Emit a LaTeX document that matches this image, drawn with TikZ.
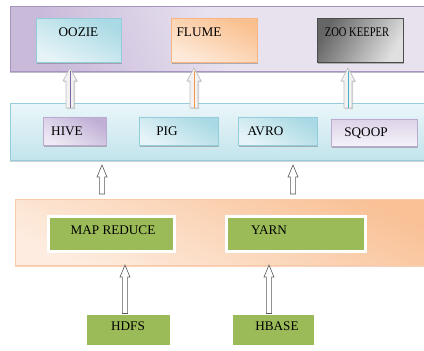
\documentclass[tikz,border=0pt]{standalone}
\usepackage{fontspec}
\setmainfont{Liberation Serif}
\usetikzlibrary{calc,shadows}
\definecolor{pdark}{HTML}{BBA9D1}
\definecolor{plight}{HTML}{E8E2EF}
\definecolor{pedge}{HTML}{A693C0}
\definecolor{bband}{HTML}{DDF0F5}
\definecolor{bbandd}{HTML}{C2E4EC}
\definecolor{bedge}{HTML}{93CDDB}
\definecolor{oband}{HTML}{F9C196}
\definecolor{obandl}{HTML}{FDECDF}
\definecolor{oedge}{HTML}{F2A675}
\definecolor{gbox}{HTML}{9BBB59}
\definecolor{HTML-A9D9E4}{HTML}{A9D9E4}
\definecolor{oozl}{HTML}{E6F4F7}
\definecolor{fdark}{HTML}{FAC08F}
\definecolor{flight}{HTML}{FDEADA}
\definecolor{fedge}{HTML}{F8B483}
\definecolor{hdark}{HTML}{BFAFD5}
\definecolor{hlight}{HTML}{EEE9F4}
\definecolor{sqd}{HTML}{DDD3E8}
\definecolor{sqe}{HTML}{BBA9D0}
\definecolor{arrp}{HTML}{8064A2}
\definecolor{arro}{HTML}{F79646}
\definecolor{arrt}{HTML}{4BACC6}
\tikzset{
  every node/.style={inner sep=0pt, outer sep=0pt},
  sh/.style={drop shadow={shadow xshift=1.3pt, shadow yshift=-1.6pt, fill=black!50, opacity=0.55}},
  bandsh/.style={drop shadow={shadow xshift=0pt, shadow yshift=-2pt, fill=pedge!70!black, opacity=0.45}},
  nw/.style={rectangle, anchor=north west},
  bluebox/.style={nw, sh, draw=bedge, line width=0.6pt},
  txt/.style={font=\fontsize{13.2}{15}\selectfont, text=black},
  greenbox/.style={nw, sh, fill=gbox, draw=black!15, line width=0.4pt, double=white, double distance=3pt},
  openarr/.style={fill=white, draw=black!65, line width=0.6pt},
  grayarr/.style={fill=black!5, draw=black!25, line width=0.7pt, drop shadow={shadow xshift=1pt, shadow yshift=-1pt, fill=black!40, opacity=0.4}}
}
% #1 style, #2 base, #3 tip, #4 half shaft, #5 half head, #6 head length
\newcommand\uparr[6]{%
  \draw[#1] ($(#2)+(-#4,0)$) -- ($(#3)+(-#4,#6)$) -- ($(#3)+(-#5,#6)$) -- (#3)
    -- ($(#3)+(#5,#6)$) -- ($(#3)+(#4,#6)$) -- ($(#2)+(#4,0)$) -- cycle;}
\begin{document}
\begin{tikzpicture}[x=1pt,y=-1pt]
\fill[white] (0,0) rectangle (424,351);
\useasboundingbox (0,0) rectangle (424,351);
% bands
\node[nw, bandsh, minimum width=420, minimum height=65, draw=pedge, line width=0.6pt,
  top color=plight!30!pdark, bottom color=plight, middle color=plight, shading angle=110] (top) at (10,6) {};
\node[nw, drop shadow={shadow xshift=0pt, shadow yshift=-2pt, fill=black!40, opacity=0.45}, minimum width=420, minimum height=57, draw=bedge, line width=0.6pt,
  top color=bband!60!white, bottom color=bbandd] (mid) at (10,103) {};
\node[nw, drop shadow={shadow xshift=0pt, shadow yshift=-2pt, fill=oedge, opacity=0.5}, minimum width=415, minimum height=66, draw=oedge!60, line width=0.6pt,
  top color=oband, bottom color=obandl, shading angle=-25] (bot) at (15,199) {};
% top boxes
\node[bluebox, minimum width=85, minimum height=44, top color=HTML-A9D9E4, bottom color=oozl, shading angle=-25] (oozie) at (36,18) {};
\node[nw, sh, minimum width=86, minimum height=44, draw=fedge, line width=0.6pt, top color=fdark, bottom color=flight, shading angle=-25] (flume) at (171,18) {};
\node[nw, sh, minimum width=86, minimum height=44, draw=black!70, line width=0.6pt, left color=black!60, right color=black!12, shading angle=60] (zoo) at (317,18) {};
\node[txt] (toozie) at (78.5,32) {OOZIE};
\node[txt] (tflume) at (199,32) {FLUME};
\node[txt, xscale=0.8] (tzoo) at (357,32) {ZOO KEEPER};
% middle boxes
\node[nw, sh, minimum width=63, minimum height=28, draw=sqe, line width=0.6pt, top color=hdark, bottom color=hlight, shading angle=-30] (hive) at (43,117) {};
\node[bluebox, minimum width=79, minimum height=28, top color=HTML-A9D9E4, bottom color=oozl, shading angle=-30] (pig) at (139,117) {};
\node[bluebox, minimum width=79, minimum height=28, top color=HTML-A9D9E4, bottom color=oozl, shading angle=-30] (avro) at (238,117) {};
\node[nw, sh, minimum width=86, minimum height=27, draw=sqe, line width=0.6pt, top color=sqd, bottom color=hlight!60!white] (sqoop) at (331,119) {};
\node[txt] (thive) at (67,131) {HIVE};
\node[txt] (tpig) at (167,131) {PIG};
\node[txt] (tavro) at (265.5,131) {AVRO};
\node[txt] (tsqoop) at (366,133) {SQOOP};
% bottom band boxes
\node[greenbox, minimum width=126, minimum height=35] (mapred) at (48.5,216.5) {};
\node[greenbox, minimum width=139, minimum height=35] (yarn) at (226.5,216.5) {};
\node[txt] (tmapred) at (113,230) {MAP REDUCE};
\node[txt] (tyarn) at (269,230) {YARN};
% base boxes
\node[greenbox, minimum width=86, minimum height=33] (hdfs) at (85.5,313.5) {};
\node[greenbox, minimum width=84, minimum height=33] (hbase) at (231.5,313.5) {};
\node[txt] (thdfs) at (128,326) {HDFS};
\node[txt] (thbase) at (277,326) {HBASE};
% arrow end points
\coordinate (b1) at ($(oozie.south)+(-8.5,46)$);
\coordinate (t1) at ($(oozie.south)+(-8.5,6)$);
\coordinate (b2) at ($(flume.south)+(-20,46)$);
\coordinate (t2) at ($(flume.south)+(-20,6)$);
\coordinate (b3) at ($(zoo.south)+(-12,46)$);
\coordinate (t3) at ($(zoo.south)+(-12,6)$);
\coordinate (b4) at ($(hive.south east)+(-4,49)$);
\coordinate (t4) at ($(hive.south east)+(-4,20)$);
\coordinate (b5) at ($(avro.south)+(15.5,49)$);
\coordinate (t5) at ($(avro.south)+(15.5,20)$);
% top arrows
\uparr{grayarr}{b1}{t1}{4}{7}{13}
\uparr{grayarr}{b2}{t2}{4}{7}{13}
\uparr{grayarr}{b3}{t3}{4}{7}{13}
\draw[arrp, line width=0.6pt] (b1) -- ($(t1)+(0,3)$);
\draw[arro, line width=0.6pt] (b2) -- ($(t2)+(0,3)$);
\draw[arrt, line width=0.6pt] (b3) -- ($(t3)+(0,3)$);
% middle arrows
\uparr{openarr}{b4}{t4}{2.6}{5}{12}
\uparr{openarr}{b5}{t5}{2.6}{5}{12}
% bottom arrows
\uparr{openarr}{$(hdfs.north)+(-3.5,0)$}{$(hdfs.north |- bot.south)+(-3.5,0)$}{2.6}{5}{12}
\uparr{openarr}{$(hbase.north)+(-4.5,0)$}{$(hbase.north |- bot.south)+(-4.5,0)$}{2.6}{5}{12}
\end{tikzpicture}
\end{document}
